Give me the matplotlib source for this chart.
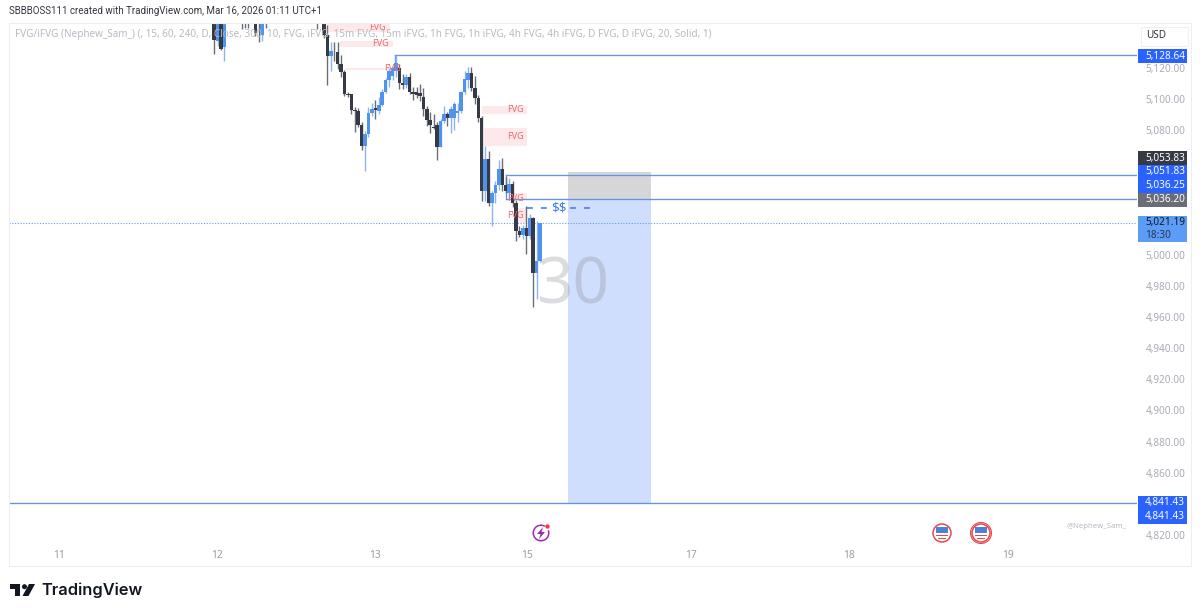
import matplotlib
matplotlib.use('Agg')
import matplotlib.pyplot as plt
from matplotlib.patches import Rectangle, Circle, Polygon, Wedge
from matplotlib.transforms import ScaledTranslation

plt.rcParams['font.family'] = ['Noto Sans', 'DejaVu Sans']

# 30 min candles, bar number counted from the last bar
bar_index = [-95, -94, -93, -92, -87, -86, -85, -83, -82, -81, -80, -65,
             -63, -62, -61, -60, -59, -58, -57, -56, -55, -54, -53, -52,
             -51, -50, -49, -48, -47, -46, -45, -44, -43, -42, -41, -40,
             -39, -38, -37, -36, -35, -34, -33, -32, -31, -30, -29, -28,
             -27, -26, -25, -24, -23, -22, -21, -20, -19, -18, -17, -16,
             -15, -14, -13, -12, -11, -10, -9, -8, -7, -6, -5, -4, -3, -2, -1, 0]
opens = [5160, 5138, 5158, 5134.1, 5152, 5152, 5152, 5160, 5152, 5141.8, 5152, 5152,
         5165, 5141.8, 5128.3, 5131, 5130.9, 5123.2, 5118.1, 5103.9, 5103.5, 5093.7, 5093, 5084,
         5070.6, 5078.3, 5091.7, 5095, 5093, 5096.9, 5105.2, 5113, 5115.5, 5118.7, 5120.6, 5111,
         5109.7, 5114.9, 5105, 5105, 5104.6, 5102, 5094.3, 5087.3, 5082.5, 5084, 5069.9, 5086.6,
         5091.1, 5088.5, 5088.5, 5091.5, 5093, 5105.2, 5113, 5117.4, 5107.8, 5101.4, 5088.5, 5041.7,
         5062.2, 5034, 5040.4, 5045.5, 5055.8, 5045.5, 5040, 5046.2, 5034, 5016, 5013.4, 5017.9, 5012.8, 5024.3, 4989, 4996.7]
highs = [5165, 5158, 5160, 5160, 5156, 5156, 5156, 5165, 5156, 5160, 5156, 5156,
         5170, 5148, 5137.3, 5137.3, 5137, 5128.9, 5119, 5105, 5104, 5095.6, 5095, 5086,
         5080, 5095.6, 5098.2, 5100, 5102, 5107, 5114, 5120.6, 5122, 5128.64, 5123, 5116.8,
         5116.8, 5117.5, 5108, 5108.5, 5110.4, 5107.8, 5096.2, 5092.4, 5091, 5086, 5088, 5096,
         5092, 5096, 5098.5, 5098, 5106, 5118.7, 5121.3, 5121.3, 5115.5, 5103, 5090, 5070.6,
         5067.4, 5041.7, 5048, 5061.6, 5062.9, 5050.7, 5050, 5048, 5036, 5019.2, 5020, 5032, 5027, 5025, 5022, 5021.19]
lows = [5129.6, 5134.8, 5132, 5125.1, 5145.5, 5146, 5146.5, 5141.3, 5137.3, 5138, 5146, 5145.5,
        5140, 5109.7, 5118.7, 5125.1, 5119.9, 5115, 5102.7, 5102, 5091.1, 5079.6, 5082.8, 5068,
        5054.5, 5076, 5090, 5088, 5090.8, 5096, 5104.5, 5108.5, 5113, 5115, 5107.2, 5107.2,
        5107.6, 5103.9, 5100, 5101, 5099.5, 5089.8, 5083.4, 5079, 5081.5, 5061.6, 5069.9, 5085,
        5083.5, 5079, 5081, 5086, 5091.5, 5104, 5107.8, 5106, 5097.5, 5086, 5035.2, 5035.2,
        5032, 5019.2, 5034, 5042, 5041.7, 5040, 5036, 5031, 5009.6, 5012.1, 5011, 5001.2, 5011, 4967.2, 4972.3, 4996]
closes = [5138.8, 5155, 5132.8, 5158, 5150, 5150, 5150, 5143.1, 5150, 5155, 5150, 5150,
          5142, 5128.3, 5131.6, 5130.5, 5123.2, 5118.1, 5103.9, 5103.3, 5093.7, 5093, 5084, 5070.6,
          5078.3, 5091.7, 5094.3, 5093.7, 5096.9, 5105.2, 5112.9, 5118.7, 5120.6, 5123.8, 5111, 5109.7,
          5114.9, 5105.2, 5103.9, 5103.3, 5102.7, 5094.3, 5087.3, 5084, 5082, 5069.9, 5086.6, 5091.1,
          5088.5, 5094.3, 5097.5, 5092.7, 5105.2, 5113.6, 5117.4, 5107.8, 5101.4, 5088.5, 5041.7, 5062.2,
          5034, 5040.4, 5045.5, 5055.8, 5045.5, 5041.7, 5046.2, 5034, 5016, 5013.4, 5017.9, 5012.8, 5024.3, 4989, 4996.7, 5021.19]

# FVG zones
fvg_left = [-62, -58.3, -56.9, -16.9, -16.3, -8.2, -6.4]
fvg_right = [-43.7, -42.9, -42.3, -3.8, -3.8, -3.8, -3.8]
fvg_top = [5149.5, 5138, 5120.6, 5096.2, 5082.1, 5040.4, 5030.8]
fvg_bottom = [5143.8, 5134.1, 5119.4, 5091.1, 5070.6, 5035.9, 5021.1]
fvg_label_x = [-47.5, -46.4, -42.9, -7.3, -7.3, -7.3, -7.3]
fvg_label_y = [5146.5, 5136, 5120, 5093.6, 5076.3, 5037, 5025.5]

# levels
level_prices = [5128.64, 5051.83, 5036.25, 4841.43]
level_starts = [-42.3, -9.9, -9.9, -155]
last_price = 5021.19
entry_price = 5036.20
stop_price = 5053.83
target_price = 4841.43
position_left = 8.2
position_right = 32.4
sweep_price = 5030.8

# axis labels
price_ticks = [5120, 5100, 5080, 5000, 4980, 4960, 4940, 4920, 4900, 4880, 4860, 4820]
date_ticks = [-140.2, -94.2, -48.1, -3.8, 44, 90.1, 136.4]
date_labels = ['11', '12', '13', '15', '17', '18', '19']

# price tags on the scale: label, colour, text colour
tag_labels = ['5,128.64', '5,053.83', '5,051.83', '5,036.25', '5,036.20', '4,841.43', '4,841.43']
tag_colors = ['#2962ff', '#363a45', '#2962ff', '#2962ff', '#6a6d78', '#2962ff', '#2962ff']
tag_tops = [49, 151, 164.5, 178.5, 192.5, 496, 510]

legend_text = ('FVG/iFVG (Nephew_Sam_) (, 15, 60, 240, D, Close, 300, 10, FVG, iFVG, 15m FVG, '
               '15m iFVG, 1h FVG, 1h iFVG, 4h FVG, 4h iFVG, D FVG, D iFVG, 20, Solid, 1)')

W, H = 1200, 616
UP = '#4f93ec'
DOWN = '#363a45'
LEVEL = '#6394e0'

fig = plt.figure(figsize=(12, 6.16), dpi=100, facecolor='white')

# main pane, pixel box x 9-1137, y 23-543
ax = fig.add_axes([9 / W, (H - 543) / H, 1128 / W, 520 / H])
ax.set_xlim((9 - 540) / 3.43, (1137 - 540) / 3.43)
ax.set_ylim(5120 - (543 - 68.8) / 1.5575, 5120 + (68.8 - 23) / 1.5575)
for s in ax.spines.values():
    s.set_visible(False)
ax.yaxis.tick_right()
ax.set_yticks(price_ticks)
ax.set_yticklabels(['{:,.2f}'.format(p) for p in price_ticks], fontsize=7.2, color='#a9acb5')
ax.set_xticks(date_ticks)
ax.set_xticklabels(date_labels, fontsize=7.4, color='#9a9da6')
ax.tick_params(axis='y', length=0, pad=6)
ax.tick_params(axis='x', length=0, pad=5)
# scale text sits a pixel above the price it belongs to
for lab in ax.get_yticklabels():
    lab.set_transform(lab.get_transform() + ScaledTranslation(0, 1 / 100, fig.dpi_scale_trans))

# position tool
ax.add_patch(Rectangle((position_left, entry_price), position_right - position_left,
                       stop_price - entry_price, fc='#d6d6d8', ec='none', zorder=1))
ax.add_patch(Rectangle((position_left, target_price), position_right - position_left,
                       entry_price - target_price, fc='#cfdefc', ec='none', zorder=1))

# interval watermark
ax.text(9.6, 4980.5, '30', fontsize=46, color='#8a8d96', alpha=0.3, ha='center', va='center', zorder=2)

# fvg boxes
for i in range(len(fvg_left)):
    ax.add_patch(Rectangle((fvg_left[i], fvg_bottom[i]), fvg_right[i] - fvg_left[i],
                           fvg_top[i] - fvg_bottom[i], fc='#fde8ea', ec='none', zorder=1.5))
    ax.text(fvg_label_x[i], fvg_label_y[i], 'FVG', fontsize=6.5, color='#ee6a76',
            ha='center', va='center', zorder=6)

# levels
for p, start in zip(level_prices, level_starts):
    ax.plot([start, ax.get_xlim()[1]], [p, p], color=LEVEL, lw=0.95, zorder=3)
ax.plot([-42.3, -42.3], [5128.64, 5122], color=LEVEL, lw=0.95, zorder=3)
ax.plot([-9.9, -9.9], [5051.83, 5036.25], color=LEVEL, lw=0.95, zorder=3)
ax.axhline(last_price, color='#5f9ff5', lw=0.8, ls=(0, (1, 1.5)), zorder=3)

# candles
colors = [UP if c >= o else DOWN for o, c in zip(opens, closes)]
wick_colors = ['#8ab5f2' if c >= o else '#6a6d76' for o, c in zip(opens, closes)]
ax.vlines(bar_index, lows, highs, colors=wick_colors, lw=1.0, zorder=4)
ax.bar(bar_index, [abs(c - o) for o, c in zip(opens, closes)], bottom=[min(o, c) for o, c in zip(opens, closes)],
       width=1.02, color=colors, linewidth=0, zorder=5)

# liquidity sweep line
ax.plot([-3.8, 2.1], [sweep_price, sweep_price], color='#3b78f0', lw=1.1, ls=(0, (3.9, 5.2)), zorder=6)
ax.plot([8.7, 15.2], [sweep_price, sweep_price], color='#3b78f0', lw=1.1, ls=(0, (3.9, 5.2)), zorder=6)
ax.text(5.6, sweep_price, '$$', fontsize=9.6, color='#3b78f0', ha='center', va='center', zorder=6, parse_math=False)

# everything around the pane, in pixels
ch = fig.add_axes([0, 0, 1, 1], facecolor='none')
ch.set_xlim(0, W)
ch.set_ylim(H, 0)
ch.axis('off')

ch.add_patch(Rectangle((8.5, 22.5), 1182, 543.5, fc='none', ec='#eceef3', lw=0.8))
ch.text(9, 11, 'SBBBOSS111 created with TradingView.com, Mar 16, 2026 01:11 UTC+1',
        fontsize=7.0, family=['Roboto', 'DejaVu Sans'], color='#333640', ha='left', va='center')
ch.text(15, 35, legend_text, fontsize=7.15, color='#b7bac3', ha='left', va='center')

# scale tags
ch.add_patch(Rectangle((1141, 27), 47, 19, fc='white', ec='#eef0f4', lw=0.8))
ch.text(1156, 36, 'USD', fontsize=7.2, color='#333640', ha='center', va='center')
for lab, col, top in zip(tag_labels, tag_colors, tag_tops):
    ch.add_patch(Rectangle((1138, top), 49, 14, fc=col, ec='none'))
    ch.text(1145, top + 7, lab, fontsize=7.2, color='white', ha='left', va='center')
ch.add_patch(Rectangle((1138, 216), 49, 26, fc='#5b9cf6', ec='none'))
ch.text(1145, 222.5, '5,021.19', fontsize=7.2, color='#131722', ha='left', va='center')
ch.text(1145, 235, '18:30', fontsize=7.2, color='#2a3550', ha='left', va='center')

ch.text(1097, 527, '@Nephew_Sam_', fontsize=5.6, color='#b7bac3', ha='center', va='center')

# event icons
ch.add_patch(Wedge((541, 533), 8.5, -20, 300, width=1.5, fc='#9c27b0', ec='none'))
ch.add_patch(Polygon([(543, 527), (537, 534), (540.5, 534), (539, 539), (545, 532), (541.5, 532)],
                     fc='#9c27b0', ec='none'))
ch.add_patch(Circle((547.5, 526.5), 2.2, fc='#f23645', ec='none'))

for cx in [942, 981]:
    ch.add_patch(Circle((cx, 533), 9, fc='white', ec='#e5484d', lw=1.1))
    ch.add_patch(Rectangle((cx - 6, 527), 12, 6, fc='#4f80d8', ec='none'))
    ch.add_patch(Rectangle((cx - 6, 535), 12, 1.3, fc='#e5484d', ec='none'))
    ch.add_patch(Rectangle((cx - 4, 538), 8, 1.2, fc='#e5484d', ec='none'))
ch.add_patch(Circle((981, 533), 10.5, fc='none', ec='#e5484d', lw=0.8))

# logo
ch.add_patch(Polygon([(10, 584), (20, 584), (20, 596), (14.5, 596), (14.5, 589), (10, 589)], fc='#131722', ec='none'))
ch.add_patch(Circle((24.5, 586.7), 2.5, fc='#131722', ec='none'))
ch.add_patch(Polygon([(29, 584), (35, 584), (28.5, 596), (22.5, 596)], fc='#131722', ec='none'))
ch.text(41, 590.5, 'TradingView', fontsize=11.8, fontweight='semibold', family=['Inter', 'DejaVu Sans'],
        color='#131722', ha='left', va='center')

fig.savefig('out.png', dpi=100, facecolor='white')
